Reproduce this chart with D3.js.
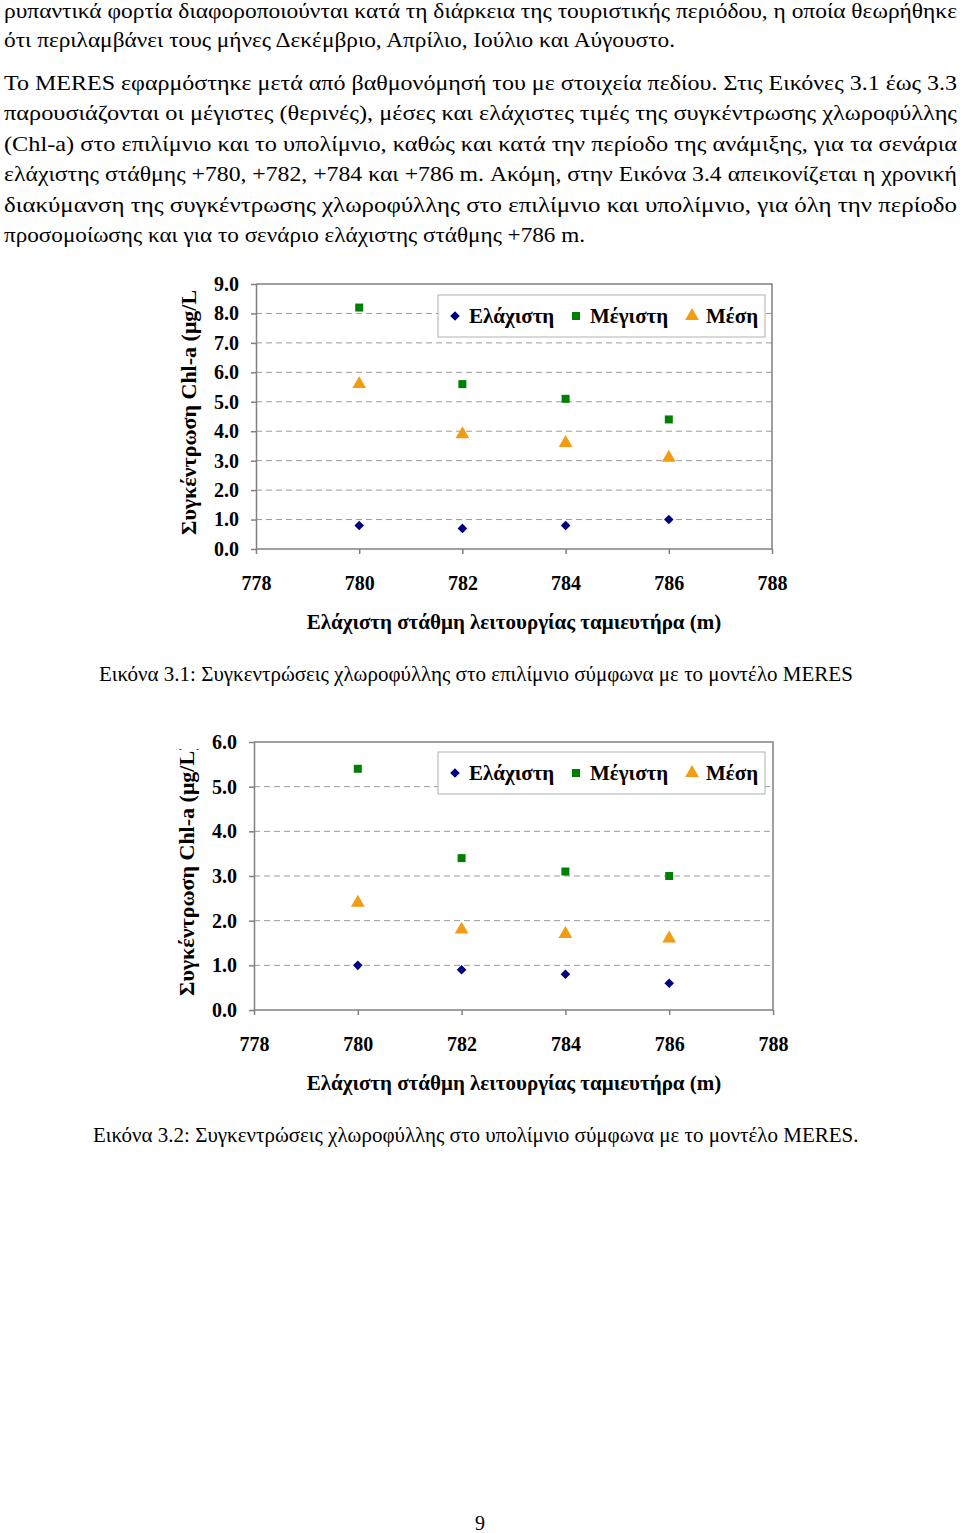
<!DOCTYPE html>
<html lang="el">
<head>
    <meta charset="UTF-8">
    <title>Συγκεντρώσεις χλωροφύλλης - MERES</title>
    <script src="https://d3js.org/d3.v7.min.js"></script>
    <style>
        body { margin: 0; background: #fff; }
        svg { display: block; }
        text { font-family: "Liberation Serif", "Times New Roman", serif; fill: #000; }
        .body-text { font-size: 21px; }
        .bold { font-weight: bold; }
        .grid line { stroke: #9a9a9a; stroke-dasharray: 6,4; stroke-width: 1; }
        .axis path, .axis line { stroke: #808080; stroke-width: 1.5; }
    </style>
</head>
<body>
<script>
    // page text, one entry per printed line: [text, right edge]
    const paraLines = [
        ["ρυπαντικά φορτία διαφοροποιούνται κατά τη διάρκεια της τουριστικής περιόδου, η οποία θεωρήθηκε", 957],
        ["ότι περιλαμβάνει τους μήνες Δεκέμβριο, Απρίλιο, Ιούλιο και Αύγουστο.", 675],
        ["Το MERES εφαρμόστηκε μετά από βαθμονόμησή του με στοιχεία πεδίου. Στις Εικόνες 3.1 έως 3.3", 957],
        ["παρουσιάζονται οι μέγιστες (θερινές), μέσες και ελάχιστες τιμές της συγκέντρωσης χλωροφύλλης", 957],
        ["(Chl-a) στο επιλίμνιο και το υπολίμνιο, καθώς και κατά την περίοδο της ανάμιξης, για τα σενάρια", 957],
        ["ελάχιστης στάθμης +780, +782, +784 και +786 m. Ακόμη, στην Εικόνα 3.4 απεικονίζεται η χρονική", 957],
        ["διακύμανση της συγκέντρωσης χλωροφύλλης στο επιλίμνιο και υπολίμνιο, για όλη την περίοδο", 957],
        ["προσομοίωσης και για το σενάριο ελάχιστης στάθμης +786 m.", 585]
    ];
    const paraBaselines = [18, 47, 90, 120, 151, 181, 212, 242];

    // chart data
    const levels = [780, 782, 784, 786];
    const xTicks = [778, 780, 782, 784, 786, 788];
    const seriesNames = ["Ελάχιστη", "Μέγιστη", "Μέση"];
    const seriesColors = ["#000080", "#008000", "#f39c12"];

    const epiMin = [0.8, 0.7, 0.8, 1.0];
    const epiMax = [8.2, 5.6, 5.1, 4.4];
    const epiMean = [5.6, 3.9, 3.6, 3.1];

    const hypoMin = [1.0, 0.9, 0.8, 0.6];
    const hypoMax = [5.4, 3.4, 3.1, 3.0];
    const hypoMean = [2.4, 1.8, 1.7, 1.6];

    const yTitle = "Συγκέντρωση Chl-a (μg/L)";
    const xTitle = "Ελάχιστη στάθμη λειτουργίας ταμιευτήρα (m)";
    const caption1 = "Εικόνα 3.1: Συγκεντρώσεις χλωροφύλλης στο επιλίμνιο σύμφωνα με το μοντέλο MERES";
    const caption2 = "Εικόνα 3.2: Συγκεντρώσεις χλωροφύλλης στο υπολίμνιο σύμφωνα με το μοντέλο MERES.";

    const width = 960, height = 1533;
    const svg = d3.select("body").append("svg")
        .attr("width", width)
        .attr("height", height);

    // paragraph lines (squeezed to the printed widths)
    svg.selectAll(".body-text.para")
        .data(paraLines)
        .enter().append("text")
        .attr("class", "body-text para")
        .attr("x", 4)
        .attr("y", (d, i) => paraBaselines[i])
        .attr("textLength", d => d[1] - 4)
        .attr("lengthAdjust", "spacingAndGlyphs")
        .text(d => d[0]);

    // diamond = square turned 45 degrees
    const symbols = [d3.symbolSquare, d3.symbolSquare, d3.symbolTriangle];
    const symbolSizes = [46, 64, 82];
    const symbolRot = [45, 0, 0];

    function drawChart(opt) {
        const g = svg.append("g");
        const x = d3.scaleLinear().domain([778, 788]).range([opt.left, opt.right]);
        const y = d3.scaleLinear().domain([0, opt.yMax]).range([opt.bottom, opt.top]);
        const yTicks = d3.range(0, opt.yMax + 0.5, 1);

        // dashed gridlines
        g.append("g").attr("class", "grid")
            .selectAll("line")
            .data(yTicks.filter(v => v > 0 && v < opt.yMax))
            .enter().append("line")
            .attr("x1", opt.left).attr("x2", opt.right)
            .attr("y1", d => y(d)).attr("y2", d => y(d));

        // top and right frame
        g.append("path")
            .attr("d", `M${opt.left},${opt.top}H${opt.right}V${opt.bottom}`)
            .attr("fill", "none")
            .attr("stroke", "#808080")
            .attr("stroke-width", 1.5);

        const yAxis = g.append("g").attr("class", "axis")
            .attr("transform", `translate(${opt.left},0)`)
            .call(d3.axisLeft(y).tickValues(yTicks).tickFormat(d3.format(".1f"))
                .tickSizeInner(5).tickSizeOuter(0).tickPadding(12));
        yAxis.selectAll("text")
            .attr("class", "bold")
            .style("font-size", "20px");

        const xAxis = g.append("g").attr("class", "axis")
            .attr("transform", `translate(0,${opt.bottom})`)
            .call(d3.axisBottom(x).tickValues(xTicks).tickFormat(d3.format("d"))
                .tickSizeInner(5).tickSizeOuter(0).tickPadding(22));
        xAxis.selectAll("text")
            .attr("class", "bold")
            .style("font-size", "20px");
        xAxis.select(".domain").attr("d", `M${opt.left},0H${opt.right}`);

        // markers
        opt.series.forEach((vals, si) => {
            g.append("g").selectAll("path")
                .data(vals)
                .enter().append("path")
                .attr("d", d3.symbol().type(symbols[si]).size(symbolSizes[si]))
                .attr("transform", (d, i) => `translate(${x(levels[i])},${y(d)}) rotate(${symbolRot[si]})`)
                .attr("fill", seriesColors[si]);
        });

        // legend
        const leg = g.append("g");
        leg.append("rect")
            .attr("x", 438).attr("y", opt.legendTop)
            .attr("width", 327).attr("height", 42)
            .attr("fill", "#fff")
            .attr("stroke", "#b0b0b0")
            .attr("stroke-width", 1);
        const legX = [455, 576, 692];
        seriesNames.forEach((name, si) => {
            leg.append("path")
                .attr("d", d3.symbol().type(symbols[si]).size(symbolSizes[si]))
                .attr("transform", `translate(${legX[si]},${opt.legendTop + 21}) rotate(${symbolRot[si]})`)
                .attr("fill", seriesColors[si]);
            leg.append("text")
                .attr("class", "bold")
                .attr("x", legX[si] + 14)
                .attr("y", opt.legendTop + 28)
                .style("font-size", "21px")
                .text(name);
        });

        // y title, clipped at the top like the original
        const clipId = "clip" + opt.top;
        svg.append("clipPath").attr("id", clipId)
            .append("rect")
            .attr("x", 150).attr("y", opt.top + 7)
            .attr("width", 80).attr("height", 400);
        g.append("g")
            .attr("clip-path", `url(#${clipId})`)
            .append("text")
            .attr("class", "bold")
            .attr("transform", `translate(${opt.left - 60},${opt.bottom - 14}) rotate(-90)`)
            .attr("text-anchor", "start")
            .style("font-size", "22px")
            .text(yTitle);

        g.append("text")
            .attr("class", "bold")
            .attr("x", 514)
            .attr("y", opt.bottom + 80)
            .attr("text-anchor", "middle")
            .style("font-size", "21px")
            .text(xTitle);

        g.append("text")
            .attr("class", "body-text")
            .attr("x", opt.captionX)
            .attr("y", opt.bottom + 132)
            .text(opt.caption);
    }

    drawChart({
        left: 256, right: 772, top: 284, bottom: 549, yMax: 9,
        series: [epiMin, epiMax, epiMean],
        legendTop: 295, captionX: 99, caption: caption1
    });

    drawChart({
        left: 254, right: 773, top: 742, bottom: 1010, yMax: 6,
        series: [hypoMin, hypoMax, hypoMean],
        legendTop: 752, captionX: 93, caption: caption2
    });

    svg.append("text")
        .attr("class", "body-text")
        .attr("x", 480)
        .attr("y", 1530)
        .attr("text-anchor", "middle")
        .style("font-size", "20px")
        .text("9");
</script>
</body>
</html>
